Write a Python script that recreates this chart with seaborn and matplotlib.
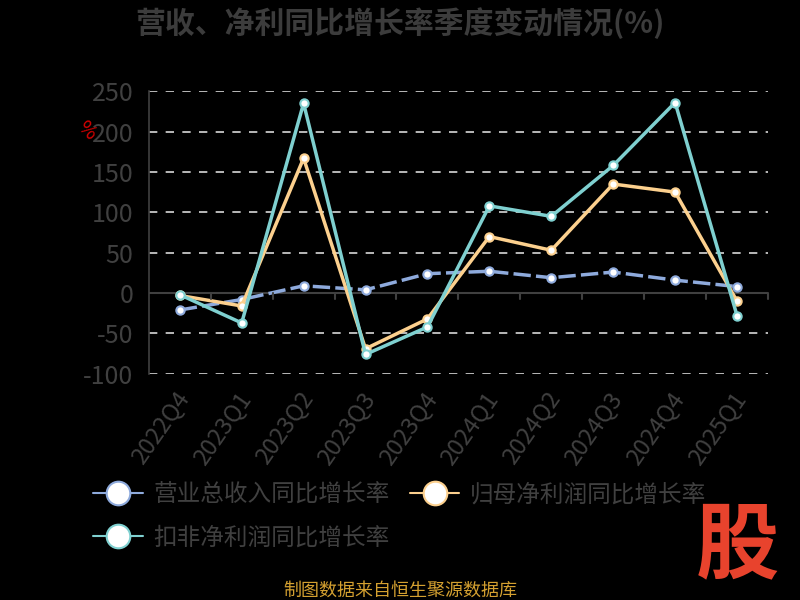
import pandas as pd
import seaborn as sns
import matplotlib.pyplot as plt
import matplotlib.transforms as mtransforms
from matplotlib.lines import Line2D

# data
quarters = ["2022Q4", "2023Q1", "2023Q2", "2023Q3", "2023Q4",
            "2024Q1", "2024Q2", "2024Q3", "2024Q4", "2025Q1"]
revenue_yoy = [-21, -8, 9, 4, 24, 27, 19, 26, 16, 8]
parent_profit_yoy = [-3, -16, 167, -69, -32, 70, 53, 135, 125, -10]
deducted_profit_yoy = [-2, -37, 235, -76, -42, 108, 95, 158, 236, -28]

series_names = ["营业总收入同比增长率", "归母净利润同比增长率", "扣非净利润同比增长率"]
colors = ["#8eaadc", "#fcd08e", "#7fd0d0"]

df = pd.DataFrame({
    "quarter": quarters * 3,
    "value": revenue_yoy + parent_profit_yoy + deducted_profit_yoy,
    "series": [series_names[0]] * 10 + [series_names[1]] * 10 + [series_names[2]] * 10,
})

sns.set_theme(style="dark")
plt.rcParams["font.family"] = ["Noto Sans CJK SC", "DejaVu Sans"]
plt.rcParams["axes.unicode_minus"] = False

fig = plt.figure(figsize=(8, 6), dpi=100, facecolor="black")
ax = fig.add_axes([0.186, 0.377, 0.774, 0.471])
ax.set_facecolor("black")

sns.lineplot(data=df, x="quarter", y="value", hue="series", style="series",
             palette=dict(zip(series_names, colors)),
             dashes={series_names[0]: (5, 1.5), series_names[1]: "", series_names[2]: ""},
             markers={n: "o" for n in series_names},
             markersize=6, markerfacecolor="white", markeredgewidth=1.5,
             linewidth=2.5, sort=False, legend=False, ax=ax)
# marker edges in series colour
for line, c in zip(ax.get_lines(), colors):
    line.set_markeredgecolor(c)

ax.set_xlim(-0.5, 9.5)
ax.set_ylim(-100, 250)
ax.set_yticks([-100, -50, 0, 50, 100, 150, 200, 250])
ax.set_xlabel("")
ax.set_ylabel("")
for y in [-100, -50, 50, 100, 150, 200, 250]:
    ax.axhline(y, color="#d8d8d8", linestyle=(0, (5, 5)), linewidth=1.2, zorder=0)
ax.axhline(0, color="#404040", linewidth=1.5, zorder=1)
ax.grid(False)

for s in ["top", "right", "bottom"]:
    ax.spines[s].set_visible(False)
ax.spines["left"].set_color("#404040")
ax.spines["left"].set_linewidth(1.2)

# category ticks sit between bands on the zero line
for i in range(10):
    ax.plot([i + 0.5, i + 0.5], [0, -7], color="#404040", linewidth=1.5, clip_on=False)
ax.tick_params(axis="y", colors="#404040", labelsize=18, length=0, pad=11)
ax.tick_params(axis="x", colors="#404040", labelsize=17, length=0, pad=10)
shift = mtransforms.ScaledTranslation(-5 / 100, 0, fig.dpi_scale_trans)
for lbl in ax.get_xticklabels():
    lbl.set_rotation(55)
    lbl.set_ha("right")
    lbl.set_rotation_mode("anchor")
    lbl.set_transform(lbl.get_transform() + shift)

ax.text(-0.1, 0.86, "%", transform=ax.transAxes, color="#d40000", fontsize=14,
        rotation=-45, ha="center", va="center")

fig.text(0.5, 0.962, "营收、净利同比增长率季度变动情况(%)", ha="center", va="center",
         fontsize=21.5, fontweight="bold", color="#3c3c3c")

handles = [Line2D([0], [0], color=c, linewidth=1.5, marker="o", markersize=17,
                  markerfacecolor="white", markeredgecolor=c, markeredgewidth=1.5)
           for c in colors]
order = [0, 2, 1]  # fill legend row by row
leg = fig.legend([handles[i] for i in order], [series_names[i] for i in order],
                 loc="upper left", bbox_to_anchor=(0.09, 0.23),
                 ncol=2, frameon=False, fontsize=17, labelcolor="#404040",
                 handlelength=2.1, columnspacing=0.85, handletextpad=0.45, labelspacing=0.85)

fig.text(0.5, 0.016, "制图数据来自恒生聚源数据库", ha="center", va="center",
         fontsize=13, color="#d4a030")
fig.text(0.922, 0.088, "股", ha="center", va="center", fontsize=60,
         fontweight="bold", color="#e8432d", style="italic")

fig.savefig("out.png", dpi=100, facecolor="black")
